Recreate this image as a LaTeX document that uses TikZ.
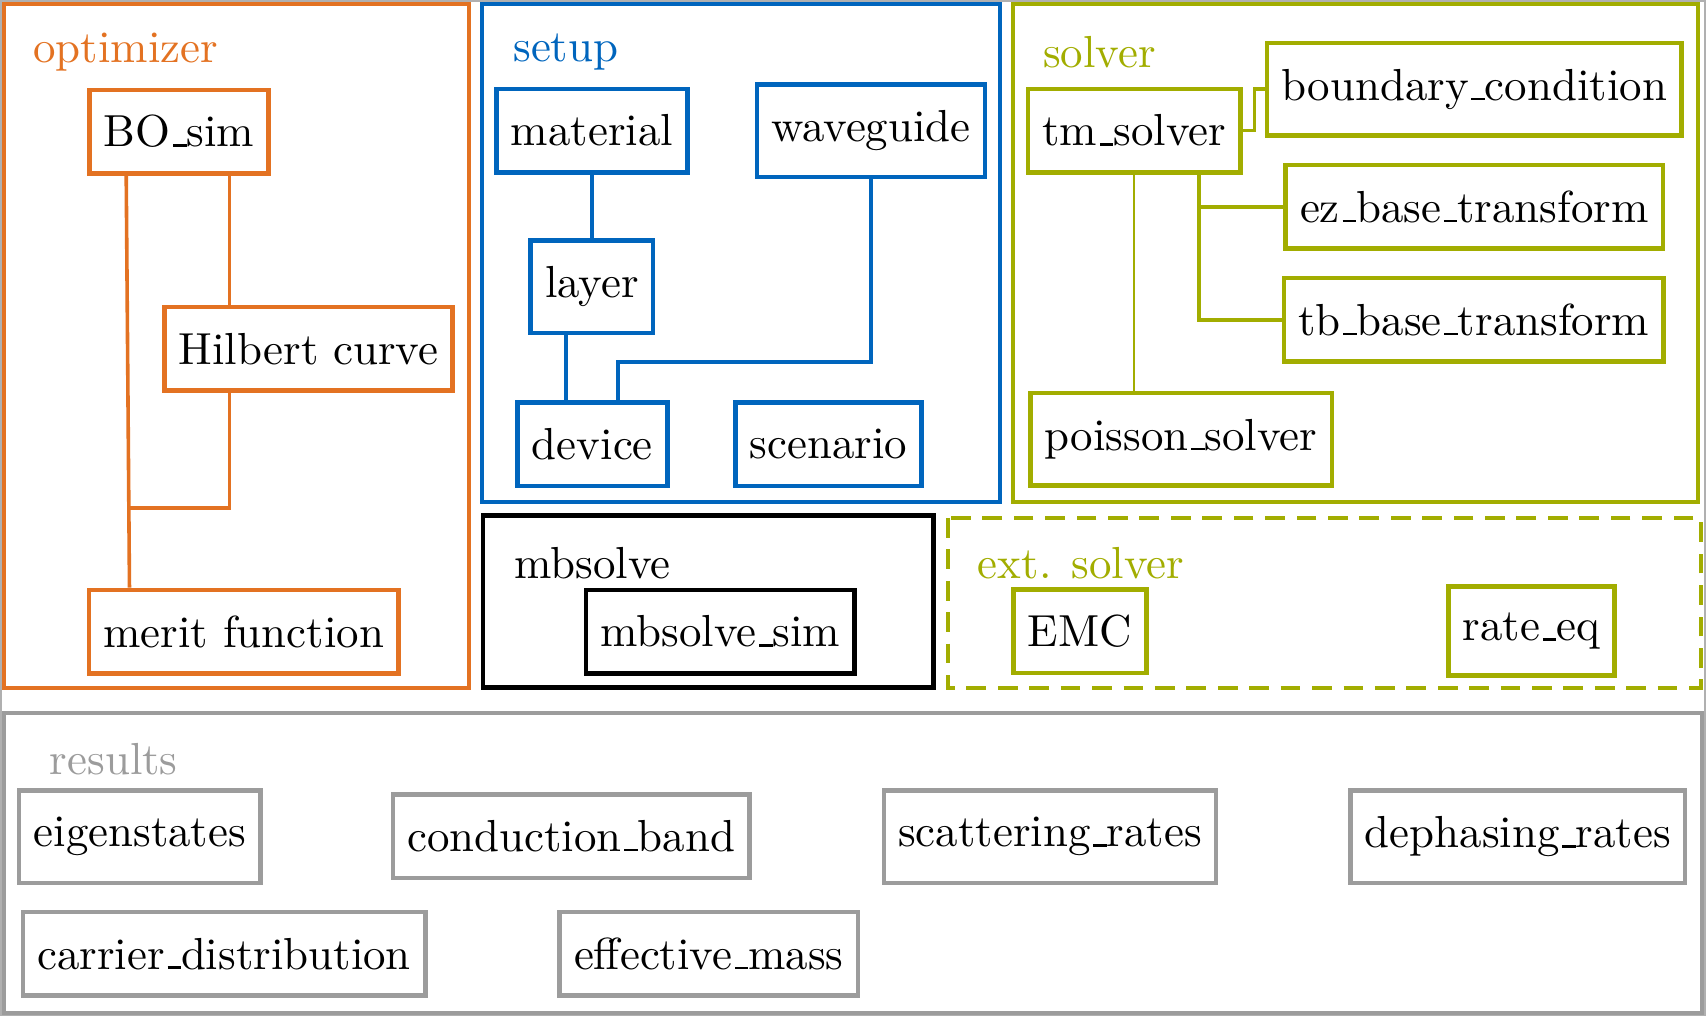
\documentclass[tikz,border=0pt]{standalone}
\usepackage{tikz}
\usetikzlibrary{calc,positioning}
\definecolor{tumorange}{RGB}{227,114,34}
\definecolor{tumblue}{RGB}{0,101,189}
\definecolor{tumgreen}{RGB}{162,173,0}
\definecolor{tumgray}{RGB}{156,156,156}
\newcommand{\uscore}{\leavevmode\kern.06em\vbox{\hrule width .3em height .6pt}}

\begin{document}
\begin{tikzpicture}[x=0.2424pt, y=-0.2424pt,
    frame/.style={line width=0.9pt},
    box/.style={draw=#1, line width=1pt, inner xsep=3.2pt, inner ysep=0pt,
        minimum height=18.6pt, text=black},
    tall/.style={minimum height=20.6pt},
    tag/.style={anchor=west, inner sep=0pt},
    link/.style={line width=0.8pt}]

\useasboundingbox (0,0) rectangle (1568,934);
\draw[tumgray!80, line width=0.4pt] (0.8,0.8) rectangle (1567.2,933.2);

% optimizer
\draw[frame, tumorange] (4,4) rectangle (431,632);
\node[tag, tumorange] (optlabel) at (30,48) {optimizer};
\node[box=tumorange] (bosim) at (164.5,121) {BO\uscore sim};
\node[box=tumorange] (hilbert) at (283.5,320.5) {Hilbert curve};
\node[box=tumorange] (merit) at (224,580.5) {merit function};
\coordinate (join) at (118.4,467);
\draw[link, tumorange] ($(bosim.south)+(-48.5,0)$) -- ($(merit.north)+(-105,0)$);
\draw[link, tumorange] ($(bosim.south)+(46.5,0)$) coordinate (b1) -- (b1 |- hilbert.north);
\draw[link, tumorange] ($(hilbert.south)+(-72.5,0)$) |- (join);

% setup
\draw[frame, tumblue] (443,4) rectangle (919,461);
\node[tag, tumblue] (setlabel) at (471,48) {setup};
\node[box=tumblue] (material) at (544,120) {material};
\node[box=tumblue, tall] (waveguide) at (800.5,120) {waveguide};
\node[box=tumblue, tall] (layer) at (544,263.5) {layer};
\node[box=tumblue] (device) at (544.5,408.5) {device};
\node[box=tumblue] (scenario) at (761.5,408.5) {scenario};
\draw[link, tumblue] (material) -- (layer);
\draw[link, tumblue] ($(layer.south)+(-24,0)$) coordinate (l1) -- (l1 |- device.north);
\draw[link, tumblue] (waveguide.south) -- ++(0,168) -| ($(device.north)+(23.5,0)$);

% solver
\draw[frame, tumgreen] (931,4) rectangle (1561,461);
\node[tag, tumgreen] (sollabel) at (958,48) {solver};
\node[box=tumgreen] (tmsolver) at (1042.5,120) {tm\uscore solver};
\node[box=tumgreen, tall] (boundary) at (1355,82) {boundary\uscore condition};
\node[box=tumgreen] (ezbase) at (1355,190) {ez\uscore base\uscore transform};
\node[box=tumgreen] (tbbase) at (1354.5,294) {tb\uscore base\uscore transform};
\node[box=tumgreen, tall] (poisson) at (1085.5,403.5) {poisson\uscore solver};
\draw[link, tumgreen] (tmsolver.east) -- ++(11,0) |- (boundary.west);
\draw[line width=0.4pt, tumgreen] (tmsolver.south) -- (tmsolver.south |- poisson.north);
\draw[link, tumgreen] ($(tmsolver.south)+(59.5,0)$) coordinate (t1) |- (tbbase.west);
\draw[link, tumgreen] (t1) |- (ezbase.west);

% mbsolve
\draw[frame, black, line width=1pt] (444,474) rectangle (858,632);
\node[tag] (mblabel) at (472,518) {mbsolve};
\node[box=black] (mbsim) at (662,580.5) {mbsolve\uscore sim};

% ext. solver
\draw[frame, tumgreen, dash pattern=on 4.4pt off 2.6pt] (871,476) rectangle (1563,632);
\node[tag, tumgreen] (extlabel) at (898,518) {ext. solver};
\node[box=tumgreen] (emc) at (992.5,580) {EMC};
\node[box=tumgreen, minimum height=19.9pt] (rateeq) at (1407.5,580) {rate\uscore eq};

% results
\draw[frame, tumgray] (4,655) rectangle (1564,931);
\node[tag, tumgray] (reslabel) at (45,698) {results};
\node[box=tumgray, tall] (eigen) at (128.5,769) {eigenstates};
\node[box=tumgray] (cband) at (525,768.5) {conduction\uscore band};
\node[box=tumgray, tall] (scatter) at (965,769) {scattering\uscore rates};
\node[box=tumgray, tall] (dephase) at (1395,769) {dephasing\uscore rates};
\node[box=tumgray] (carrier) at (206,876.5) {carrier\uscore distribution};
\node[box=tumgray] (effmass) at (651.5,876.5) {effective\uscore mass};

\end{tikzpicture}
\end{document}
